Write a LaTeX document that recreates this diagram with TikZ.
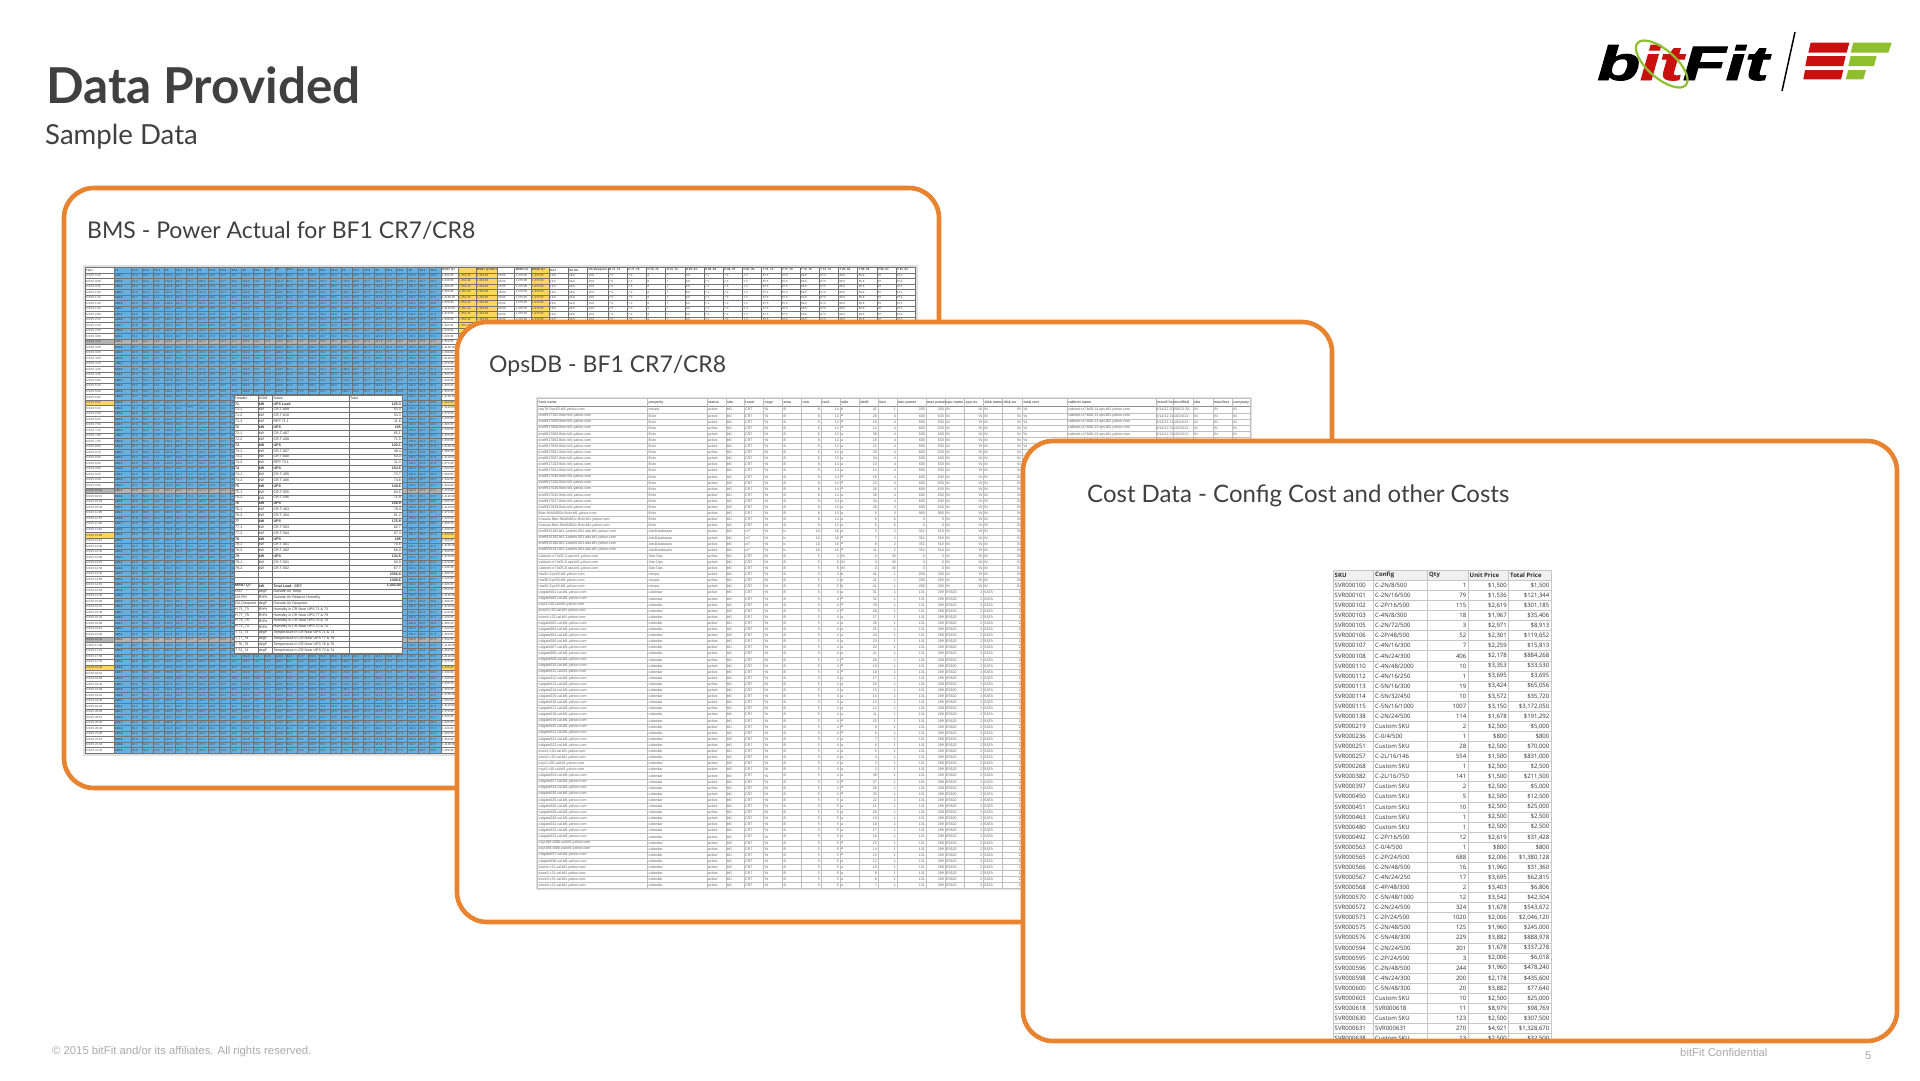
\documentclass[tikz,border=0pt]{standalone}
\usepackage{fontspec}
\setmainfont{Lato}
\newfontfamily\lib{Liberation Sans}
\newfontfamily\opn{Open Sans}
\newfontfamily\logofont[FakeBold=2]{Liberation Sans}
\definecolor{panelor}{HTML}{E8842F}
\definecolor{cellblue}{HTML}{62B0E4}
\definecolor{cellyel}{HTML}{FFD65C}
\definecolor{titlegr}{HTML}{404040}
\definecolor{logored}{HTML}{C9100F}
\definecolor{logogrn}{HTML}{8FBF2F}
\definecolor{footgr}{HTML}{ABABAB}
\newcommand\tA{\lib\fontsize{2.9}{3}\selectfont\color{black!72}}
\newcommand\tB{\lib\fontsize{3.6}{4}\selectfont\color{black!80}}
\newcommand\tC{\lib\fontsize{3.6}{4}\selectfont\color{black!62}}
\newcommand\tD{\opn\fontsize{6}{7}\selectfont\color{black!82}}
\newcommand\bsN{\textbackslash N}
\newcommand\tenthfmt[1]{\the\numexpr(#1-5)/10\relax.\the\numexpr(#1)-((#1-5)/10)*10\relax}
\newcommand\modnine[1]{\numexpr(#1)-(((#1)-4)/9)*9\relax}
\newcount\inrow
\newcount\costrow
\newcount\opsrowno
\newcommand\insetrow[4]{%
  \global\advance\inrow by 1
  \pgfmathsetmacro\yy{395+(\the\inrow+.5)*5.87}%
  \node[cellA,font=\tB] at (235,\yy) {#1};
  \node[cellA,font=\tB] at (258.7,\yy) {#2};
  \node[cellA,font=\tB] at (273.3,\yy) {#3};
  \node[cellE,font=\tB] at (401,\yy) {#4};
}
\newcommand\costline[5]{%
  \global\advance\costrow by 1
  \pgfmathsetmacro\yy{575.3+\the\costrow*10.07}%
  \node[cellA,font=\tD] at (1334.5,\yy) {SVR000#1};
  \node[cellA,font=\tD] at (1375,\yy) {#2};
  \node[cellE,font=\tD] at (1466.5,\yy) {#3};
  \node[cellE,font=\tD] at (1507,\yy) {\$#4};
  \node[cellE,font=\tD] at (1549.5,\yy) {\$#5};
}
% ops row: host, property, room, area, row, rack, side, shelf
\newcommand\opsrowA[8]{%
  \global\advance\opsrowno by 1
  \pgfmathsetmacro\yy{409.7+(\the\opsrowno-1)*6.1}%
  \node[cellA,font=\tC] at (538.5,\yy) {#1};
  \node[cellA,font=\tC] at (648.5,\yy) {#2};
  \node[cellA,font=\tC] at (708,\yy) {active};
  \node[cellA,font=\tC] at (727,\yy) {bf1};
  \node[cellA,font=\tC] at (745,\yy) {#3};
  \node[cellA,font=\tC] at (764.5,\yy) {\bsN};
  \node[cellA,font=\tC] at (783.5,\yy) {#4};
  \node[cellE,font=\tC] at (820,\yy) {#5};
  \node[cellE,font=\tC] at (839,\yy) {#6};
  \node[cellA,font=\tC] at (841,\yy) {#7};
  \node[cellE,font=\tC] at (877,\yy) {#8};
}
% size, min, max, cpu, cpuno, disk, diskno
\newcommand\opsrowB[7]{%
  \node[cellE,font=\tC] at (896,\yy) {#1};
  \node[cellE,font=\tC] at (925,\yy) {#2};
  \node[cellE,font=\tC] at (944,\yy) {#3};
  \node[cellA,font=\tC] at (946,\yy) {#4};
  \node[cellE,font=\tC] at (982.5,\yy) {#5};
  \node[cellA,font=\tC] at (984,\yy) {#6};
  \node[cellE,font=\tC] at (1021,\yy) {#7};
}
\newcommand\opsrowC[3]{%
  \node[cellA,font=\tC] at (1023.5,\yy) {\bsN};
  \node[cellA,font=\tC] at (1068,\yy) {#1};
  \node[cellA,font=\tC] at (1156.5,\yy) {#2};
  \node[cellA,font=\tC] at (1174,\yy) {#3};
  \node[cellA,font=\tC] at (1194,\yy) {\bsN};
  \node[cellA,font=\tC] at (1214,\yy) {\bsN};
  \node[cellA,font=\tC] at (1233,\yy) {\bsN};
}
\tikzset{
  panel/.style={draw=panelor,fill=white,line width=4.6pt,rounded corners=30pt},
  cellA/.style={inner sep=0pt,anchor=west},
  cellE/.style={inner sep=0pt,anchor=east},
  grida/.style={draw=black!55,line width=.3pt},
  gridb/.style={draw=black!25,line width=.4pt},
  gridc/.style={draw=black!22,line width=.6pt},
  ptitle/.style={inner sep=0pt,anchor=base west,text=titlegr,font=\fontsize{23}{28}\selectfont},
  foot/.style={inner sep=0pt,anchor=west,text=footgr,font=\lib\fontsize{11.3}{14}\selectfont}
}
\begin{document}
\begin{tikzpicture}[x=1pt,y=-1pt]
\useasboundingbox (0,0) rectangle (1920,1080);
\fill[white] (0,0) rectangle (1920,1080);
% titles
\node[inner sep=0pt,anchor=base west,text=titlegr,font=\bfseries\fontsize{49.5}{60}\selectfont] (title) at (46,103) {Data Provided};
\node[inner sep=0pt,anchor=base west,text=titlegr,font=\fontsize{27.6}{34}\selectfont] (subtitle) at (45,144) {Sample Data};
% logo
\node[inner sep=0pt,anchor=base west,xscale=1.46,transform shape,font=\logofont\bfseries\itshape\fontsize{48}{50}\selectfont] (logotxt) at (1597,80) {b\textcolor{logored}{it}Fit};
\draw[logogrn,line width=2.2pt,rotate around={-41:(1661.7,64)}] (1661.7,64) ellipse (32 and 14);
\draw[black,line width=1.5pt] (1795,32) -- (1782,91);
\begin{scope}[shift={(1580,20)},x=.3333pt,y=-.3333pt]
  \fill[logored] (692,68) -- (808,68) -- (800,98) -- (685,98) -- cycle;
  \fill[logored] (682,108) -- (797,108) -- (790,138) -- (676,138) -- cycle;
  \fill[logored] (675,150) -- (790,150) -- (783,178) -- (670,178) -- cycle;
  \fill[logogrn] (820,68) -- (935,68) -- (925,98) -- (812,98) -- cycle;
  \fill[logogrn] (812,108) -- (890,108) -- (882,138) -- (805,138) -- cycle;
  \fill[logogrn] (805,150) -- (858,150) -- (850,178) -- (797,178) -- cycle;
\end{scope}
% ---------- panel 1
\draw[panel] (64,188) rectangle (939,788);
\node[ptitle] (bmstitle) at (87,238) {BMS - Power Actual for BF1 CR7/CR8};
% table 1
\draw[black!12,line width=2pt] (84,265.5) rectangle (917,754.5);
\fill[white] (85,267.2) rectangle (916,753);
\fill[cellblue] (114,267.2) rectangle (441,753);
\fill[cellyel] (458,267.2) rectangle (497,753);
\fill[cellyel] (531,267.2) rectangle (549,753);
\foreach \rw in {13,40,67} {\fill[black!30] (85,{270+5.52*\rw-2.76}) rectangle (441,{270+5.52*\rw+2.76});}
\foreach \rw in {24,48,72} {
  \fill[cellyel] (85,{270+5.52*\rw-2.76}) rectangle (114,{270+5.52*\rw+2.76});
  \fill[cellyel] (441,{270+5.52*\rw-2.76}) rectangle (458,{270+5.52*\rw+2.76});
}
\foreach \rw in {0,...,88} {\draw[grida] (85,{267.24+5.52*\rw}) -- (916,{267.24+5.52*\rw});}
\foreach \xx in {85,114,131,441,458,475.7,497,514.6,531,549,568,587.5,608} {\draw[grida] (\xx,267.2) -- (\xx,753);}
\foreach \ii in {1,...,28} {\draw[grida] ({131+11.06*\ii},267.2) -- ({131+11.06*\ii},753);}
\foreach \ii in {1,...,16} {\draw[grida] ({608+19.2*\ii},267.2) -- ({608+19.2*\ii},753);}
% table 1 header
\node[cellA,font=\tA] at (86,270) {\bfseries Time};
\foreach \hd/\vv [count=\cl] in {71/1251,71-1/528,71-2/531,71-3/118,72/1496,72-1/645,72-2/719,73/1169,73-1/480,73-2/524,73-3/113,74/1543,74-1/719,74-2/744,75/1406,75-1/644,75-2/719,76/1583,76-1/786,76-2/786,77/1798,77-1/853,77-2/875,78/1478,78-1/713,78-2/676,79/1363,79-1/604,79-2/671} {
  \pgfmathsetmacro\xc{\cl==1?115:131+(\cl-2)*11.06+.8}
  \node[cellA,font=\tA] at (\xc,270) {\bfseries\hd};
  \foreach \rw in {1,...,87} {
    \edef\vl{\the\numexpr\vv+\modnine{\rw*7+\cl*11+9}-4\relax}
    \node[cellA,font=\tA] at (\xc,{270+5.52*\rw}) {\ifnum\cl=1 \bfseries\fi\tenthfmt{\vl}};
  }
}
\foreach \rw in {1,...,87} {
  \edef\hh{\the\numexpr(\rw*15-30)/60\relax}
  \edef\mm{\the\numexpr\rw*15-\hh*60\relax}
  \node[cellA,font=\tA] at (86,{270+5.52*\rw}) {5/1/15 \hh:\ifnum\mm<10 0\fi\mm};
  \edef\vl{\the\numexpr 10*\modnine{\rw*5+9}+30\relax}
  \node[cellA,font=\tA] at (442,{270+5.52*\rw}) {1,3\vl.00};
}
% table 1 right part
\foreach \xc/\hd/\tx in {442/{MSB7 Q7}/{},459/{}/{1,354.40},476.7/{MSB7 Q7 EDIT}/{1,340.00},498/{}/{45:00},515.6/{MSB6 Q7}/{1,370.00},532/{MSB6 Q7}/{1,370.00},550/OAT/{19.0},569/{OA RH}/{49.8},588.5/{OA Dewpoint}/{16.0},609/{H 71\_73}/{7.5},628.2/{H 77\_79}/{7.3},647.4/{H 76\_78}/{8},666.6/{H 72\_74}/{7},685.8/{H 80\_84}/{6.6},705/{H 88\_86}/{7.1},724.2/{H 86\_87}/{7.3},743.4/{H 81\_83}/{7.3},762.6/{T 71\_73}/{67.5},781.8/{T 77\_79}/{67.6},801/{T 76\_78}/{69.9},820.2/{T 72\_74}/{67.5},839.4/{T 80\_84}/{68.5},858.6/{T 88\_86}/{66.8},877.8/{T 86\_87}/{67},897/{T 81\_83}/{67.1}} {
  \node[cellA,font=\tA] at (\xc,270) {\bfseries\hd};
  \ifdim\xc pt>445pt
  \foreach \rw in {1,...,10} {\node[cellA,font=\tA] at (\xc,{270+5.52*\rw}) {\tx};}
  \fi
}
% inset
\fill[white] (234,395) rectangle (402,653.3);
\foreach \ii in {0,...,44} {\draw[grida] (234,{395+5.87*\ii}) -- (402,{395+5.87*\ii});}
\foreach \xx in {234,257.7,272.3,349.3,402} {\draw[grida] (\xx,395) -- (\xx,653.3);}
\global\inrow=-1
\node[cellA,font=\tB] at (349.8,397.9) {Total};
\insetrow{Header}{UOM}{Notes}{}
\insetrow{\bfseries 71}{\bfseries kW}{\bfseries UPS Load}{\bfseries 125.3}
\insetrow{71-1}{kW}{CR-T-809}{53.3}
\insetrow{71-2}{kW}{CR-T-810}{53.3}
\insetrow{71-3}{kW}{RPP 71.1}{11.8}
\insetrow{\bfseries 72}{\bfseries kW}{\bfseries UPS}{\bfseries 155}
\insetrow{72-1}{kW}{CR-T-407}{65.1}
\insetrow{72-2}{kW}{CR-T-408}{71.5}
\insetrow{\bfseries 73}{\bfseries kW}{\bfseries UPS}{\bfseries 120.1}
\insetrow{73-1}{kW}{CR-T-807}{49.4}
\insetrow{73-2}{kW}{CR-T-808}{53.3}
\insetrow{73-3}{kW}{RPP 73.1}{11.3}
\insetrow{\bfseries 74}{\bfseries kW}{\bfseries UPS}{\bfseries 154.5}
\insetrow{74-1}{kW}{CR-T-405}{72.7}
\insetrow{74-2}{kW}{CR-T-406}{74.8}
\insetrow{\bfseries 75}{\bfseries kW}{\bfseries UPS}{\bfseries 140.6}
\insetrow{75-1}{kW}{CR-T-505}{64.5}
\insetrow{75-2}{kW}{CR-T-506}{71.9}
\insetrow{\bfseries 76}{\bfseries kW}{\bfseries UPS}{\bfseries 158.9}
\insetrow{76-1}{kW}{CR-T-403}{78.4}
\insetrow{76-2}{kW}{CR-T-404}{81.2}
\insetrow{\bfseries 77}{\bfseries kW}{\bfseries UPS}{\bfseries 175.8}
\insetrow{77-1}{kW}{CR-T-503}{82.7}
\insetrow{77-2}{kW}{CR-T-504}{87.3}
\insetrow{\bfseries 78}{\bfseries kW}{\bfseries UPS}{\bfseries 185}
\insetrow{78-1}{kW}{CR-T-401}{70.8}
\insetrow{78-2}{kW}{CR-T-402}{66.9}
\insetrow{\bfseries 79}{\bfseries kW}{\bfseries UPS}{\bfseries 134.5}
\insetrow{79-1}{kW}{CR-T-501}{60.9}
\insetrow{79-2}{kW}{CR-T-502}{67.7}
\insetrow{}{}{}{\bfseries 2356.8}
\insetrow{}{}{}{\bfseries 1309.6}
\insetrow{\bfseries MSB7 Q7}{\bfseries kW}{\bfseries Total Load - CR7}{\bfseries 1,443.00}
\insetrow{OAT}{degF}{Outside Air Temp}{}
\insetrow{OA RH}{RH\%}{Outside Air Relative Humidity}{}
\insetrow{OA Dewpoint}{degF}{Outside Air Dewpoint}{}
\insetrow{H 71\_73}{RH\%}{Humidity in CR Near UPS 71 \& 73}{}
\insetrow{H 77\_79}{RH\%}{Humidity in CR Near UPS 77 \& 79}{}
\insetrow{H 76\_78}{RH\%}{Humidity in CR Near UPS 76 \& 78}{}
\insetrow{H 72\_74}{RH\%}{Humidity in CR Near UPS 72 \& 74}{}
\insetrow{T 71\_73}{degF}{Temperature in CR Near UPS 71 \& 73}{}
\insetrow{T 77\_79}{degF}{Temperature in CR Near UPS 77 \& 79}{}
\insetrow{T 76\_78}{degF}{Temperature in CR Near UPS 76 \& 78}{}
\insetrow{T 72\_74}{degF}{Temperature in CR Near UPS 72 \& 74}{}
% ---------- panel 2
\draw[panel] (457,322) rectangle (1332,922);
\node[ptitle] (opstitle) at (489,372) {OpsDB - BF1 CR7/CR8};
% table 2 grid
\draw[black!12,line width=1.2pt] (536.5,397.5) rectangle (1251,889.5);
\draw[gridb] (537.3,398.6) -- (1250,398.6);
\draw[gridb,black!45] (537.3,406.65) -- (1250,406.65);
\foreach \ii in {1,...,79} {\draw[gridb] (537.3,{406.65+6.1*\ii}) -- (1250,{406.65+6.1*\ii});}
\foreach \xx in {537.3,647.3,706.7,726,744,763.3,782.3,801.3,820.7,840,858.7,877.7,896.7,926,945,964.3,983.3,1002.3,1021.7,1067,1156,1173,1193,1213,1232,1250} {\draw[gridb] (\xx,398.6) -- (\xx,888.5);}
% table 2 header
\foreach \xc/\hd in {538.5/host name,648.5/property,708/status,727/site,745/room,764.5/cage,783.5/area,802.5/row,822/rack,841/side,860/shelf,879/size,898/min power,927/max power,946/cpu name,965.5/cpu no,984.5/disk name,1003.5/disk no,1023.5/total ram,1068/cabinet name,1157/install list,1174/modified,1194/sku,1214/manifest,1233/company} {
  \node[cellA,font=\tC\bfseries] at (\xc,402.6) {\hd};
}
% table 2 rows
\global\opsrowno=0
\opsrowA{rsw76-9-pr03.bf1.yahoo.com}{netops}{CR7}{B}{8}{14}{b}{41}\opsrowB{1}{200}{200}{\bsN}{\bsN}{\bsN}{\bsN}\opsrowC{cabinet-cr7-b08-14.ops.bf1.yahoo.com}{6/14/12 20:}{5/8/13 20:}
\foreach \hs/\rk/\sh/\ro in {917102/13/26/2,917069/13/10/3,917068/13/14/4,917060/13/38/5,917062/13/18/6,917059/13/22/7,917061/13/30/8,917067/13/34/9,917103/14/10/10,917041/14/14/11,917038/14/18/12,917100/14/22/13,917040/14/26/14,917042/14/30/15,917037/14/34/16,917039/14/38/17} {
  \opsrowA{shelf\hs.flickr.bf1.yahoo.com}{flickr}{CR7}{B}{8}{\rk}{a}{\sh}\opsrowB{4}{600}{630}{\bsN}{\bsN}{\bsN}{\bsN}
  \ifnum\ro<8 \opsrowC{cabinet-cr7-b08-13.ops.bf1.yahoo.com}{6/14/12 21:}{10/24/13 :}\fi
}
\opsrowA{fiber-flick04l02c.flickr.bf1.yahoo.com}{flickr}{CR7}{B}{8}{13}{a}{6}\opsrowB{3}{900}{900}{\bsN}{\bsN}{\bsN}{\bsN}
\opsrowA{chassis-fiber-flick04l01c.flickr.bf1.yahoo.com}{flickr}{CR7}{B}{8}{14}{a}{6}\opsrowB{6}{0}{0}{\bsN}{\bsN}{\bsN}{\bsN}
\opsrowA{chassis-fiber-flick04l02c.flickr.bf1.yahoo.com}{flickr}{CR7}{B}{8}{13}{a}{6}\opsrowB{6}{0}{0}{\bsN}{\bsN}{\bsN}{\bsN}
\foreach \hs/\sh in {915183/5,915182/7,915180/9,915181/11} {
  \opsrowA{shelf\hs.bf1-1adinfo.001.ads.bf1.yahoo.com}{AdvDatabases}{cr7}{b}{10}{16}{a}{\sh}\opsrowB{2}{352}{518}{\bsN}{\bsN}{\bsN}{\bsN}
}
\foreach \hs/\rk in {4/4,6/6,8/5} {
  \opsrowA{cabinet-cr7-b05-\hs.ops.bf1.yahoo.com}{Site-Ops}{CR7}{B}{5}{\rk}{\bsN}{0}\opsrowB{45}{0}{0}{\bsN}{\bsN}{\bsN}{\bsN}
}
\foreach \hs/\rk in {91/4,90/4,92/5} {
  \opsrowA{rsw\hs-6-pr03.bf1.yahoo.com}{netops}{CR7}{B}{5}{\rk}{b}{41}\opsrowB{1}{200}{200}{\bsN}{\bsN}{\bsN}{\bsN}
}
\foreach \hs/\sh in {calgate001/31,calgate005/32,csyr3.c30/29,store3.c30/28,store4.c32/27,calgate002/26,calgate003/25,calgate004/24,calgate006/23,calgate007/22,calgate008/21,calgate009/20,calgate010/19,calgate011/18,calgate012/17,calgate013/16,calgate014/15,calgate015/14,calgate016/13,calgate017/12,calgate018/11,calgate019/10,calgate020/9,calgate021/8,calgate022/7,calgate023/6,store1.c30/5,store2.c30/4,csyr1.c30/3,csyr2.c30/2,calgate024/38,calgate027/37,calgate034/36,calgate035/35} {
  \opsrowA{\hs.cal.bf1.yahoo.com}{calendar}{CR7}{B}{5}{4}{a}{\sh}\opsrowB{1}{131}{299}{E5620}{2}{SATA}{1}
}
\foreach \hs/\sh in {calgate025/22,calgate026/21,calgate029/20,calgate030/19,calgate031/18,calgate032/17,calgate033/16,csyr168.c006/15,csyr169.c006/14,calgate037/13,calgate036/12,store1.c31/10,store2.c31/9,store3.c31/8,store4.c31/7} {
  \opsrowA{\hs.cal.bf1.yahoo.com}{calendar}{CR7}{B}{5}{5}{a}{\sh}\opsrowB{1}{131}{299}{E5620}{2}{SATA}{1}
}
% ---------- panel 3
\draw[panel] (1023,441) rectangle (1897,1041);
\node[ptitle,font=\fontsize{24}{28}\selectfont] (costtitle) at (1087,502) {Cost Data - Config Cost and other Costs};
\begin{scope}
\clip (1330,568) rectangle (1553,1038);
\fill[black!6] (1333,570) rectangle (1551,580);
\foreach \ii in {0,...,47} {\draw[gridc] (1333,{570.2+10.07*\ii}) -- (1551,{570.2+10.07*\ii});}
\foreach \xx in {1333,1373,1427,1468,1508,1551} {\draw[gridc] (\xx,570) -- (\xx,1040);}
\node[cellA,font=\tD\bfseries] at (1334.5,575.3) {SKU};
\node[cellA,font=\tD\bfseries] at (1375,575.3) {Config};
\node[cellA,font=\tD\bfseries] at (1429,575.3) {Qty};
\node[cellA,font=\tD\bfseries] at (1469.5,575.3) {Unit Price};
\node[cellA,font=\tD\bfseries] at (1510,575.3) {Total Price};
\global\costrow=0
\costline{100}{C-2N/8/500}{1}{1,500}{1,500}
\costline{101}{C-2N/16/500}{79}{1,536}{121,344}
\costline{102}{C-2P/16/500}{115}{2,619}{301,185}
\costline{103}{C-4N/8/300}{18}{1,967}{35,406}
\costline{105}{C-2N/72/500}{3}{2,971}{8,913}
\costline{106}{C-2P/48/500}{52}{2,301}{119,652}
\costline{107}{C-4N/16/300}{7}{2,259}{15,813}
\costline{108}{C-4N/24/300}{406}{2,178}{884,268}
\costline{110}{C-4N/48/2000}{10}{3,353}{33,530}
\costline{112}{C-4N/16/250}{1}{3,695}{3,695}
\costline{113}{C-5N/16/300}{19}{3,424}{65,056}
\costline{114}{C-5N/32/450}{10}{3,572}{35,720}
\costline{115}{C-5N/16/1000}{1007}{3,150}{3,172,050}
\costline{138}{C-2N/24/500}{114}{1,678}{191,292}
\costline{219}{Custom SKU}{2}{2,500}{5,000}
\costline{236}{C-0/4/500}{1}{800}{800}
\costline{251}{Custom SKU}{28}{2,500}{70,000}
\costline{257}{C-2L/16/146}{554}{1,500}{831,000}
\costline{268}{Custom SKU}{1}{2,500}{2,500}
\costline{382}{C-2L/16/750}{141}{1,500}{211,500}
\costline{397}{Custom SKU}{2}{2,500}{5,000}
\costline{450}{Custom SKU}{5}{2,500}{12,500}
\costline{451}{Custom SKU}{10}{2,500}{25,000}
\costline{463}{Custom SKU}{1}{2,500}{2,500}
\costline{480}{Custom SKU}{1}{2,500}{2,500}
\costline{492}{C-2P/16/500}{12}{2,619}{31,428}
\costline{563}{C-0/4/500}{1}{800}{800}
\costline{565}{C-2P/24/500}{688}{2,006}{1,380,128}
\costline{566}{C-2N/48/500}{16}{1,960}{31,360}
\costline{567}{C-4N/24/250}{17}{3,695}{62,815}
\costline{568}{C-4P/48/300}{2}{3,403}{6,806}
\costline{570}{C-5N/48/1000}{12}{3,542}{42,504}
\costline{572}{C-2N/24/500}{324}{1,678}{543,672}
\costline{573}{C-2P/24/500}{1020}{2,006}{2,046,120}
\costline{575}{C-2N/48/500}{125}{1,960}{245,000}
\costline{576}{C-5N/48/300}{229}{3,882}{888,978}
\costline{594}{C-2N/24/500}{201}{1,678}{337,278}
\costline{595}{C-2P/24/500}{3}{2,006}{6,018}
\costline{596}{C-2N/48/500}{244}{1,960}{478,240}
\costline{598}{C-4N/24/300}{200}{2,178}{435,600}
\costline{600}{C-5N/48/300}{20}{3,882}{77,640}
\costline{603}{Custom SKU}{10}{2,500}{25,000}
\costline{618}{SVR000618}{11}{8,979}{98,769}
\costline{630}{Custom SKU}{123}{2,500}{307,500}
\costline{631}{SVR000631}{270}{4,921}{1,328,670}
\costline{638}{Custom SKU}{13}{2,500}{32,500}
\end{scope}
% footer
\node[foot] (copyr) at (52,1052) {© 2015 bitFit and/or its affiliates. All rights reserved.};
\node[foot] (conf) at (1680,1052) {bitFit Confidential};
\node[foot] (pageno) at (1865,1056) {5};
\end{tikzpicture}
\end{document}
